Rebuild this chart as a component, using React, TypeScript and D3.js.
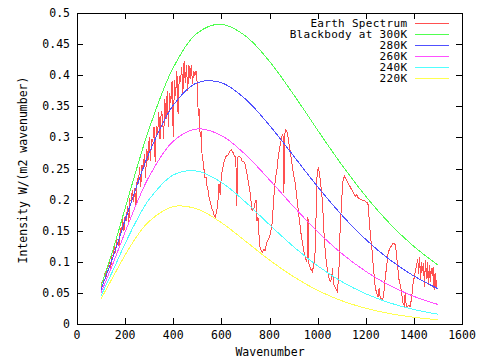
import React from "react";
import * as d3 from "d3";

const X_TICKS = [0, 200, 400, 600, 800, 1000, 1200, 1400, 1600];
const Y_TICKS = [0, 0.05, 0.1, 0.15, 0.2, 0.25, 0.3, 0.35, 0.4, 0.45, 0.5];

const BB_NU = [100, 150, 200, 250, 300, 400, 500, 600, 700, 800, 900, 1000, 1100, 1200, 1300, 1400, 1500];
const BB_300 = [0.0608, 0.1199, 0.186, 0.2523, 0.3141, 0.4121, 0.4677, 0.4819, 0.4632, 0.4222, 0.369, 0.3117, 0.2561, 0.2054, 0.1614, 0.1247, 0.0949];
const BB_280 = [0.0557, 0.1087, 0.1668, 0.2237, 0.2751, 0.3517, 0.3879, 0.388, 0.3616, 0.3193, 0.2702, 0.2208, 0.1754, 0.136, 0.1033, 0.0772, 0.0568];
const BB_260 = [0.0506, 0.0976, 0.1478, 0.1956, 0.2372, 0.2939, 0.3137, 0.3031, 0.2724, 0.2317, 0.1888, 0.1484, 0.1134, 0.0846, 0.0618, 0.0444, 0.0314];
const BB_240 = [0.0456, 0.0866, 0.1292, 0.1682, 0.2004, 0.2395, 0.2457, 0.2277, 0.1961, 0.1596, 0.1243, 0.0935, 0.0682, 0.0486, 0.0339, 0.0233, 0.0157];
const BB_220 = [0.0405, 0.0758, 0.1109, 0.1416, 0.1652, 0.1888, 0.1848, 0.1629, 0.1332, 0.1029, 0.076, 0.0541, 0.0374, 0.0253, 0.0167, 0.0108, 0.0069];

const EARTH_NU = [
  100, 105, 110, 115, 120, 125, 130, 135, 140, 145, 150, 155, 160, 165, 170, 175, 180, 185, 190, 195,
  200, 205, 210, 215, 220, 225, 230, 235, 240, 245, 250, 255, 260, 265, 270, 275, 280, 285, 290, 295,
  300, 305, 310, 315, 320, 325, 330, 335, 340, 345, 350, 355, 360, 365, 370, 375, 380, 385, 390, 395,
  400, 405, 410, 415, 420, 425, 430, 435, 440, 445, 450, 455, 460, 465, 470, 475, 480, 485, 490, 495,
  500, 504, 508, 512, 516, 520, 524, 528, 532, 536, 540, 545, 550, 555, 560, 565, 570, 575, 580, 585,
  590, 595, 600, 605, 610, 615, 620, 628, 635, 642, 648, 654, 660, 664, 668, 674, 680, 686, 692, 698,
  705, 712, 718, 724, 728, 735, 740, 744, 748, 752, 756, 760, 765, 770, 776, 782, 788, 794, 800, 806,
  810, 815, 820, 825, 830, 836, 842, 848, 852, 856, 860, 862, 866, 872, 878, 885, 892, 900, 906, 912,
  919, 925, 930, 935, 942, 948, 954, 958, 960, 962, 968, 974, 978, 984, 989, 994, 998, 1003, 1008, 1013,
  1018, 1023, 1028, 1034, 1039, 1046, 1052, 1058, 1062, 1066, 1072, 1078, 1082, 1088, 1093, 1100, 1106, 1112, 1120, 1128,
  1136, 1143, 1150, 1156, 1162, 1168, 1180, 1195, 1209, 1214, 1220, 1226, 1232, 1239, 1245, 1251, 1256, 1260, 1266, 1270,
  1275, 1280, 1286, 1293, 1300, 1309, 1315, 1322, 1326, 1330, 1338, 1347, 1355, 1360, 1364, 1368, 1372, 1378, 1384, 1390,
  1397, 1405, 1413, 1416, 1420, 1424, 1428, 1432, 1436, 1440, 1444, 1448, 1452, 1456, 1460, 1464, 1468, 1472, 1476, 1480,
  1484, 1488, 1492, 1495,
];
const EARTH_VAL = [
  0.058, 0.069, 0.069, 0.082, 0.074, 0.09, 0.092, 0.102, 0.088, 0.11, 0.109, 0.126, 0.115, 0.135, 0.136, 0.124, 0.154, 0.148, 0.168, 0.149,
  0.174, 0.166, 0.19, 0.162, 0.2, 0.197, 0.216, 0.196, 0.218, 0.188, 0.235, 0.225, 0.252, 0.22, 0.256, 0.25, 0.273, 0.234, 0.282, 0.262,
  0.3, 0.262, 0.296, 0.294, 0.317, 0.26, 0.319, 0.305, 0.34, 0.298, 0.342, 0.335, 0.297, 0.361, 0.33, 0.375, 0.316, 0.371, 0.356, 0.39,
  0.3, 0.393, 0.367, 0.407, 0.338, 0.399, 0.389, 0.413, 0.372, 0.422, 0.387, 0.416, 0.374, 0.417, 0.394, 0.417, 0.386, 0.407, 0.399, 0.407,
  0.385, 0.335, 0.345, 0.3, 0.31, 0.27, 0.262, 0.248, 0.235, 0.236, 0.222, 0.215, 0.2, 0.195, 0.185, 0.182, 0.175, 0.172, 0.18, 0.192,
  0.225, 0.208, 0.24, 0.248, 0.26, 0.265, 0.27, 0.272, 0.278, 0.28, 0.276, 0.27, 0.268, 0.19, 0.268, 0.27, 0.268, 0.262, 0.262, 0.258,
  0.245, 0.228, 0.215, 0.195, 0.182, 0.185, 0.195, 0.2, 0.165, 0.172, 0.145, 0.125, 0.118, 0.115, 0.12, 0.118, 0.13, 0.135, 0.14, 0.15,
  0.158, 0.185, 0.215, 0.235, 0.245, 0.268, 0.282, 0.295, 0.302, 0.305, 0.21, 0.3, 0.312, 0.31, 0.298, 0.28, 0.262, 0.24, 0.228, 0.21,
  0.185, 0.165, 0.148, 0.135, 0.118, 0.108, 0.1, 0.11, 0.172, 0.1, 0.092, 0.086, 0.084, 0.095, 0.112, 0.18, 0.245, 0.25, 0.242, 0.225,
  0.205, 0.175, 0.135, 0.108, 0.092, 0.075, 0.068, 0.072, 0.09, 0.065, 0.06, 0.054, 0.052, 0.08, 0.146, 0.2, 0.232, 0.238, 0.232, 0.225,
  0.22, 0.215, 0.21, 0.205, 0.208, 0.203, 0.2, 0.198, 0.194, 0.17, 0.14, 0.119, 0.09, 0.06, 0.05, 0.044, 0.058, 0.042, 0.04, 0.038,
  0.05, 0.071, 0.09, 0.114, 0.122, 0.127, 0.13, 0.128, 0.118, 0.103, 0.072, 0.055, 0.034, 0.03, 0.05, 0.03, 0.028, 0.03, 0.028, 0.04,
  0.066, 0.082, 0.098, 0.105, 0.08, 0.108, 0.07, 0.1, 0.085, 0.098, 0.06, 0.103, 0.072, 0.1, 0.062, 0.095, 0.068, 0.09, 0.078, 0.092,
  0.055, 0.082, 0.06, 0.07,
];

const SERIES_NAMES = ["Earth Spectrum", "Blackbody at 300K", "280K", "260K", "240K", "220K"];
const SERIES_COLORS = ["#ff5050", "#50ff50", "#5050ff", "#ff50ff", "#50ffff", "#ffff50"];

const FONT = "'DejaVu Sans Mono', monospace";

export default function App() {
  const W = 480;
  const H = 360;
  const left = 77;
  const right = 462;
  const top = 13;
  const bottom = 324;

  const x = d3.scaleLinear().domain([0, 1600]).range([left, right]);
  const y = d3.scaleLinear().domain([0, 0.5]).range([bottom, top]);

  const bbLine = d3
    .line<[number, number]>()
    .x((d) => x(d[0]))
    .y((d) => y(d[1]))
    .curve(d3.curveCatmullRom);
  const earthLine = d3
    .line<[number, number]>()
    .x((d) => x(d[0]))
    .y((d) => y(d[1]));

  const bbSeries = [BB_300, BB_280, BB_260, BB_240, BB_220];
  const earthData = EARTH_NU.map((n, i) => [n, EARTH_VAL[i]] as [number, number]);
  const tickLen = 6;
  const fmtY = (v: number) => (v === 0 ? "0" : String(+v.toFixed(2)));

  return (
    <svg width={W} height={H} style={{ position: "absolute", left: 0, top: 0, background: "#fff" }} fontFamily={FONT} fontSize={11.5}>
      <rect x={0} y={0} width={W} height={H} fill="#fff" />
      <g fill="none" strokeWidth={1} shapeRendering="crispEdges">
        <path d={earthLine(earthData) || ""} stroke={SERIES_COLORS[0]} />
        {bbSeries.map((s, k) => (
          <path
            key={k}
            d={bbLine(BB_NU.map((n, i) => [n, s[i]] as [number, number])) || ""}
            stroke={SERIES_COLORS[k + 1]}
          />
        ))}
      </g>
      <g stroke="#000" strokeWidth={1} shapeRendering="crispEdges">
        <rect x={left + 0.5} y={top + 0.5} width={right - left} height={bottom - top} fill="none" />
        {X_TICKS.map((t) => (
          <g key={"x" + t}>
            <line x1={Math.round(x(t)) + 0.5} x2={Math.round(x(t)) + 0.5} y1={bottom} y2={bottom - tickLen} />
            <line x1={Math.round(x(t)) + 0.5} x2={Math.round(x(t)) + 0.5} y1={top} y2={top + tickLen} />
          </g>
        ))}
        {Y_TICKS.map((t) => (
          <g key={"y" + t}>
            <line x1={left} x2={left + tickLen} y1={Math.round(y(t)) + 0.5} y2={Math.round(y(t)) + 0.5} />
            <line x1={right} x2={right - tickLen} y1={Math.round(y(t)) + 0.5} y2={Math.round(y(t)) + 0.5} />
          </g>
        ))}
      </g>
      <g fill="#000">
        {X_TICKS.map((t) => (
          <text key={"xl" + t} x={x(t)} y={339} textAnchor="middle">
            {t}
          </text>
        ))}
        {Y_TICKS.map((t) => (
          <text key={"yl" + t} x={70} y={y(t) + 4} textAnchor="end">
            {fmtY(t)}
          </text>
        ))}
        <text x={270} y={356} textAnchor="middle">
          Wavenumber
        </text>
        <text transform="translate(27,170) rotate(-90)" textAnchor="middle">
          Intensity W/(m2 wavenumber)
        </text>
      </g>
      <g fontSize={11}>
        {SERIES_NAMES.map((name, i) => (
          <g key={name}>
            <text x={407} y={23 + i * 11 + 4} textAnchor="end" fill="#000" textLength={name.length * 6.9} lengthAdjust="spacing">
              {name}
            </text>
            <line
              x1={415}
              x2={449}
              y1={23.5 + i * 11}
              y2={23.5 + i * 11}
              stroke={SERIES_COLORS[i]}
              strokeWidth={1}
              shapeRendering="crispEdges"
            />
          </g>
        ))}
      </g>
    </svg>
  );
}
